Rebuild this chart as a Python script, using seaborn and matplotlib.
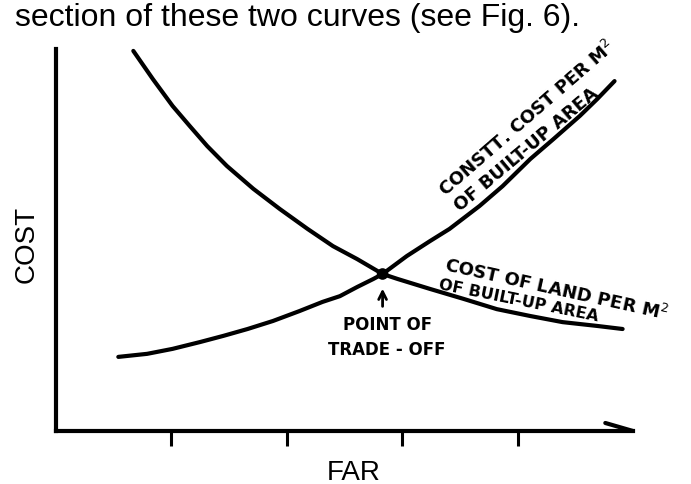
import numpy as np
import pandas as pd
import matplotlib
matplotlib.use("Agg")
import matplotlib.pyplot as plt
import seaborn as sns

# --- data (FAR on x, relative cost on y) ---
land_far  = [0.67, 0.84, 1.01, 1.16, 1.31, 1.48, 1.71, 1.94, 2.18, 2.40, 2.61, 2.83,
             2.96, 3.24, 3.53, 3.82, 4.11, 4.39, 4.69, 4.91]
land_cost = [9.95, 9.21, 8.51, 7.98, 7.46, 6.94, 6.34, 5.81, 5.29, 4.84, 4.50, 4.11,
             3.98, 3.72, 3.46, 3.19, 3.01, 2.85, 2.75, 2.67]

constr_far  = [0.54, 0.79, 1.01, 1.25, 1.45, 1.66, 1.88, 2.11, 2.31, 2.46, 2.61, 2.75,
               2.83, 3.04, 3.24, 3.41, 3.67, 3.87, 4.11, 4.31, 4.54, 4.69, 4.84]
constr_cost = [1.94, 2.02, 2.15, 2.33, 2.49, 2.67, 2.88, 3.14, 3.38, 3.53, 3.77, 3.98,
               4.11, 4.58, 4.97, 5.29, 5.89, 6.41, 7.12, 7.64, 8.25, 8.69, 9.16]

tradeoff_far  = [2.83]
tradeoff_cost = [4.11]

far_ticks = [1, 2, 3, 4]

df = pd.concat([
    pd.DataFrame({"FAR": land_far, "COST": land_cost, "curve": "land"}),
    pd.DataFrame({"FAR": constr_far, "COST": constr_cost, "curve": "constr"}),
])

sns.set_style("white")
plt.rcParams["font.family"] = ["DejaVu Sans"]
plt.rcParams["text.color"] = "black"

fig = plt.figure(figsize=(6.91, 4.85), dpi=100)
ax = fig.add_axes([56 / 691, 53 / 485, 577 / 691, 382 / 485])

sns.lineplot(data=df, x="FAR", y="COST", units="curve", estimator=None, sort=False,
             color="black", lw=3, ax=ax, solid_capstyle="round",
             solid_joinstyle="round", clip_on=False)
sns.scatterplot(x=tradeoff_far, y=tradeoff_cost, color="black", s=70, ax=ax,
                edgecolor="none", clip_on=False, zorder=5)

ax.set_xlim(0, 5)
ax.set_ylim(0, 10)
for s in ["top", "right"]:
    ax.spines[s].set_visible(False)
for s in ["left", "bottom"]:
    ax.spines[s].set_linewidth(3)
    ax.spines[s].set_color("black")
ax.set_xticks(far_ticks)
ax.set_xticklabels([])
ax.set_yticks([])
ax.tick_params(axis="x", bottom=True, direction="out", length=11, width=2.2,
               color="black")
ax.set_xlabel("")
ax.set_ylabel("")

# half arrow head on the FAR axis
ax.plot([4.76, 5.0], [0.21, 0.0], color="black", lw=3, clip_on=False,
        solid_capstyle="round")

# curve labels
lab = dict(fontweight="bold", rotation_mode="anchor",
           ha="left", va="baseline", color="black")
ax.text(3.38, 6.15, r"CONSTT. COST PER M$^{2}$", rotation=41, fontsize=13, **lab)
ax.text(3.50, 5.76, "OF BUILT-UP AREA", rotation=40, fontsize=13, **lab)
ax.text(3.36, 4.22, r"COST OF LAND PER M$^{2}$", rotation=-12.5, fontsize=13, **lab)
ax.text(3.31, 3.74, "OF BUILT-UP AREA", rotation=-11.5, fontsize=11.5, **lab)

ax.annotate("", xy=(2.83, 3.80), xytext=(2.83, 3.19),
            arrowprops=dict(arrowstyle="->", lw=2, color="black",
                            mutation_scale=14))
ax.text(2.87, 2.80, "POINT OF", fontsize=12, fontweight="bold",
        ha="center", va="center")
ax.text(2.87, 2.15, "TRADE - OFF", fontsize=12, fontweight="bold",
        ha="center", va="center")

# axis titles and the line of text above the figure
fig.text(354 / 691, 1 - 473 / 485, "FAR", fontsize=20, family="Liberation Sans",
         ha="center", va="center")
fig.text(27 / 691, 1 - 244 / 485, "COST", fontsize=20, family="Liberation Sans",
         rotation=90, ha="center", va="center")
fig.text(15 / 691, 1 - 26 / 485, "section of these two curves (see Fig. 6).",
         fontsize=23, family="Liberation Sans", ha="left", va="baseline")

fig.savefig("out.png", dpi=100)
